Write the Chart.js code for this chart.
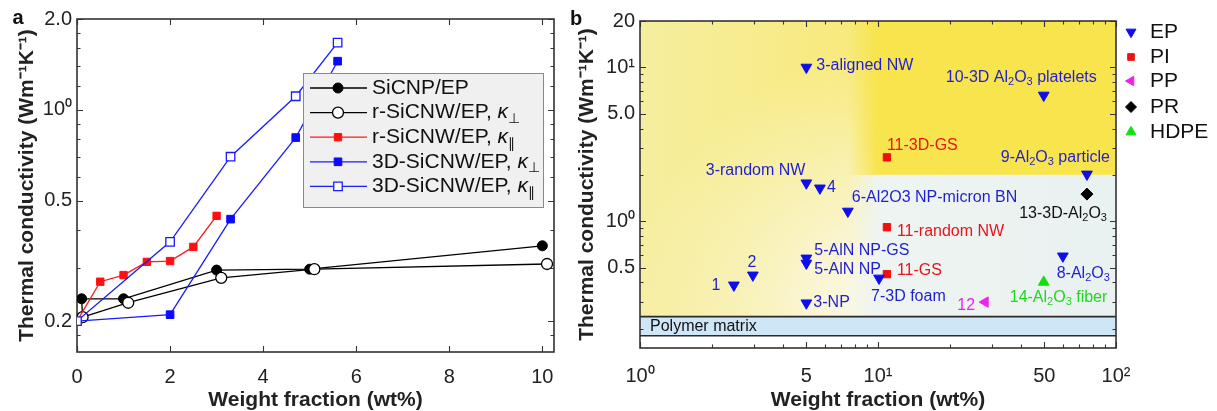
<!DOCTYPE html>
<html>
<head>
<meta charset="utf-8">
<script src="https://cdn.jsdelivr.net/npm/chart.js@4.4.0/dist/chart.umd.min.js"></script>
<style>
body { margin:0; background:#fff; width:1217px; height:411px; overflow:hidden; position:relative; }
#ca { position:absolute; left:0; top:0; }
#cb { position:absolute; left:565px; top:0; }
</style>
</head>
<body>
<canvas id="ca" width="575" height="411"></canvas>
<canvas id="cb" width="652" height="411"></canvas>
<script>
// ---- panel a data ----
var aNames = ["SiCNP/EP", "r-SiCNW/EP, κ_⊥", "r-SiCNW/EP, κ_∥", "3D-SiCNW/EP, κ_⊥", "3D-SiCNW/EP, κ_∥"];
var npX = [0.12, 0.1, 1.0, 3.0, 5.0, 10.0];
var npY = [0.206, 0.237, 0.237, 0.295, 0.297, 0.355];
var rPerpX = [0.12, 1.1, 3.1, 5.1, 10.1];
var rPerpY = [0.206, 0.23, 0.278, 0.297, 0.309];
var rParX = [0, 0.5, 1.0, 1.5, 2.0, 2.5, 3.0];
var rParY = [0.2, 0.27, 0.284, 0.314, 0.316, 0.352, 0.446];
var dPerpX = [0, 2.0, 3.3, 4.7, 5.6];
var dPerpY = [0.2, 0.21, 0.435, 0.81, 1.45];
var dParX = [0, 2.0, 3.3, 4.7, 5.6];
var dParY = [0.2, 0.366, 0.70, 1.11, 1.67];

var aXTicks = [0, 2, 4, 6, 8, 10];
var aXLabels = ["0", "2", "4", "6", "8", "10"];
var aYTicks = [0.2, 0.5, 1, 2];
var aYLabels = ["0.2", "0.5", "10⁰", "2.0"];
var aYMinor = [0.18, 0.3, 0.4, 0.6, 0.7, 0.8, 0.9, 1.2, 1.4, 1.6, 1.8];

// ---- panel b data ----
var bNames = ["EP", "PI", "PP", "PR", "HDPE"];
var epX = [2.48, 2.98, 5.0, 5.0, 5.0, 10.1, 7.47, 5.0, 5.7, 5.0, 49.7, 75.5, 59.8];
var epY = [0.384, 0.446, 0.294, 0.575, 0.533, 0.426, 1.16, 1.77, 1.64, 10.0, 6.58, 2.02, 0.593];
var epText = ["1", "2", "3-NP", "5-AlN NP-GS", "5-AlN NP", "7-3D foam", "6-Al2O3 NP-micron BN",
              "3-random NW", "4", "3-aligned NW", "10-3D Al_2O_3 platelets", "9-Al_2O_3 particle", "8-Al_2O_3"];
var piX = [10.9, 10.9, 10.9];
var piY = [2.6, 0.914, 0.453];
var piText = ["11-3D-GS", "11-random NW", "11-GS"];
var ppX = [28.2];
var ppY = [0.298];
var ppText = ["12"];
var prX = [75.5];
var prY = [1.50];
var prText = ["13-3D-Al_2O_3"];
var hdX = [49.7];
var hdY = [0.402];
var hdText = ["14-Al_2O_3 fiber"];

var polymerLo = 0.18, polymerHi = 0.24;   // polymer matrix band
var hotX = 10, hotY = 2;                   // corner of the bright yellow block

var bXTicks = [1, 5, 10, 50, 100];
var bXLabels = ["10⁰", "5", "10¹", "50", "10²"];
var bXMinor = [2, 3, 4, 6, 7, 8, 9, 20, 30, 40, 60, 70, 80, 90];
var bYTicks = [0.5, 1, 5, 10, 20];
var bYLabels = ["0.5", "10⁰", "5.0", "10¹", "20"];
var bYMinor = [0.2, 0.3, 0.4, 0.6, 0.7, 0.8, 0.9, 2, 3, 4, 6, 7, 8, 9];

// label offsets [dx, dy, align] per point
var epPos = [[-18,0,'center'],[-1,-13,'center'],[7,0,'left'],[8,-8,'left'],[8,6,'left'],[-8,18,'left'],
             [4,-14,'left'],[-1,-12,'right'],[7,-1,'left'],[10,-2,'left'],[53,-18,'right'],[23,-17,'right'],[47,17,'right']];
var piPos = [[0,-12,'left'],[10,4,'left'],[10,-4,'left']];
var ppPos = [[-10,3,'right']];
var prPos = [[20,19,'right']];
var hdPos = [[-34,15,'left']];

var FONT = '"Liberation Sans", Arial, Helvetica, sans-serif';

function pts(xs, ys) {
    var out = [];
    for (var i = 0; i < xs.length; i++) out.push({x: xs[i], y: ys[i]});
    return out;
}

// small rich text: _c subscript, ^c superscript
function richRuns(s) {
    var runs = [];
    for (var i = 0; i < s.length; i++) {
        var c = s[i], k = '';
        if ((c === '_' || c === '^') && i + 1 < s.length) { k = c; c = s[i + 1]; i++; }
        if (c === 'κ') k = 'i';
        var last = runs[runs.length - 1];
        if (last && last.k === k && k === '') last.t += c;
        else runs.push({t: c, k: k});
    }
    return runs;
}
function runFont(r, size, bold) {
    var sz = (r.k === '_' || r.k === '^') ? Math.round(size * 0.68) : size;
    return (r.k === 'i' ? 'italic ' : '') + (bold ? 'bold ' : '') + sz + 'px ' + FONT;
}
function drawRich(ctx, s, x, y, size, color, align, bold) {
    var runs = richRuns(s), w = 0;
    runs.forEach(function(r) { ctx.font = runFont(r, size, bold); r.w = ctx.measureText(r.t).width; w += r.w; });
    var sx = align === 'right' ? x - w : (align === 'center' ? x - w / 2 : x);
    ctx.fillStyle = color;
    ctx.textAlign = 'left';
    ctx.textBaseline = 'middle';
    runs.forEach(function(r) {
        ctx.font = runFont(r, size, bold);
        var dy = r.k === '_' ? size * 0.32 : (r.k === '^' ? -size * 0.35 : 0);
        ctx.fillText(r.t, sx, y + dy);
        sx += r.w;
    });
}

function marker(ctx, ds, x, y, r) {
    ctx.save();
    ctx.fillStyle = ds.pointBackgroundColor;
    ctx.strokeStyle = ds.pointBorderColor;
    ctx.lineWidth = ds.pointBorderWidth;
    Chart.helpers.drawPoint(ctx, {pointStyle: ds.pointStyle, radius: r || ds.pointRadius,
        rotation: ds.pointRotation || 0, borderWidth: ds.pointBorderWidth}, x, y);
    ctx.restore();
}

// inward ticks on all four sides and the box
var frameTicks = {
    id: 'frameTicks',
    beforeDatasetsDraw: function(chart, args, o) {
        var c = chart.ctx, a = chart.chartArea, xs = chart.scales.x, ys = chart.scales.y;
        c.save();
        c.strokeStyle = '#333';
        c.lineWidth = 1.1;
        c.beginPath();
        function vt(list, len) {
            list.forEach(function(v) {
                var p = Math.round(xs.getPixelForValue(v)) + 0.5;
                c.moveTo(p, a.bottom); c.lineTo(p, a.bottom - len);
                c.moveTo(p, a.top); c.lineTo(p, a.top + len);
            });
        }
        function ht(list, len) {
            list.forEach(function(v) {
                var p = Math.round(ys.getPixelForValue(v)) + 0.5;
                c.moveTo(a.left, p); c.lineTo(a.left + len, p);
                c.moveTo(a.right, p); c.lineTo(a.right - len, p);
            });
        }
        vt(o.xMajor || [], 6); vt(o.xMinor || [], 3.5);
        ht(o.yMajor || [], 6); ht(o.yMinor || [], 3.5);
        c.stroke();
        c.lineWidth = 1.6;
        c.strokeRect(a.left, a.top, a.right - a.left, a.bottom - a.top);
        c.restore();
    }
};

var panelLetter = {
    id: 'panelLetter',
    afterDraw: function(chart, args, o) {
        var c = chart.ctx;
        c.save();
        c.font = 'bold 20px ' + FONT;
        c.fillStyle = '#111';
        c.textAlign = 'center';
        c.textBaseline = 'middle';
        c.fillText(o.text, o.x, o.y);
        c.restore();
    }
};

function logTicks(values) {
    return function(scale) { scale.ticks = values.map(function(v) { return {value: v}; }); };
}

Chart.defaults.font.family = FONT;
Chart.defaults.color = '#222';

// ================= panel a =================
var aLegend = {
    id: 'aLegend',
    afterDraw: function(chart) {
        var c = chart.ctx;
        c.save();
        c.fillStyle = '#f0f0f0';
        c.fillRect(303, 73, 240, 134);
        c.strokeStyle = '#8a8a8a';
        c.lineWidth = 1;
        c.strokeRect(303.5, 73.5, 240, 134);
        chart.data.datasets.forEach(function(ds, i) {
            var y = 88 + i * 24.6;
            c.strokeStyle = ds.borderColor;
            c.lineWidth = ds.borderWidth;
            c.beginPath(); c.moveTo(310, y); c.lineTo(367, y); c.stroke();
            marker(c, ds, 338, y);
            drawRich(c, ds.label, 372, y, 21, '#111', 'left', false);
        });
        c.restore();
    }
};

// later series are drawn on top, as in the figure
new Chart(document.getElementById('ca'), {
    type: 'scatter',
    data: {
        datasets: [
            {label: aNames[0], data: pts(npX, npY), order: 5, showLine: true, borderColor: '#000', borderWidth: 1.3,
             pointStyle: 'circle', pointRadius: 5, pointBackgroundColor: '#000', pointBorderColor: '#000', pointBorderWidth: 1},
            {label: aNames[1], data: pts(rPerpX, rPerpY), order: 4, showLine: true, borderColor: '#000', borderWidth: 1.3,
             pointStyle: 'circle', pointRadius: 5.5, pointBackgroundColor: '#fff', pointBorderColor: '#000', pointBorderWidth: 1.3},
            {label: aNames[2], data: pts(rParX, rParY), order: 3, showLine: true, borderColor: '#ff1a1a', borderWidth: 1.3,
             pointStyle: 'rect', pointRadius: 5.2, pointBackgroundColor: '#ff1010', pointBorderColor: '#ff1010', pointBorderWidth: 1},
            {label: aNames[3], data: pts(dPerpX, dPerpY), order: 2, showLine: true, borderColor: '#1a1aff', borderWidth: 1.3,
             pointStyle: 'rect', pointRadius: 5.4, pointBackgroundColor: '#0a0aff', pointBorderColor: '#0a0aff', pointBorderWidth: 1},
            {label: aNames[4], data: pts(dParX, dParY), order: 1, showLine: true, borderColor: '#1a1aff', borderWidth: 1.3,
             pointStyle: 'rect', pointRadius: 6, pointBackgroundColor: '#fff', pointBorderColor: '#1a1aff', pointBorderWidth: 1.3}
        ]
    },
    options: {
        responsive: false,
        animation: false,
        devicePixelRatio: 1,
        layout: {padding: {top: 19, right: 21, left: 0, bottom: 0}},
        elements: {line: {tension: 0}},
        plugins: {
            legend: {display: false},
            tooltip: {enabled: false},
            frameTicks: {xMajor: aXTicks, yMajor: aYTicks, yMinor: aYMinor},
            panelLetter: {text: 'a', x: 18, y: 18}
        },
        scales: {
            x: {
                type: 'linear', min: 0, max: 10.25, bounds: 'data',
                grid: {display: false, drawTicks: false}, border: {display: false},
                afterBuildTicks: logTicks(aXTicks),
                afterFit: function(s) { s.height = 59; },
                ticks: {padding: 13, maxRotation: 0, autoSkip: false, font: {size: 20},
                        callback: function(v, i) { return aXLabels[i]; }},
                title: {display: true, text: 'Weight fraction (wt%)', padding: {top: 0, bottom: 0},
                        font: {size: 21, weight: 'bold', lineHeight: 1}}
            },
            y: {
                type: 'logarithmic', min: 0.158, max: 2.0, bounds: 'data',
                grid: {display: false, drawTicks: false}, border: {display: false},
                afterBuildTicks: logTicks(aYTicks),
                afterFit: function(s) { s.width = 77; },
                ticks: {padding: 5, autoSkip: false, font: {size: 20},
                        callback: function(v, i) { return aYLabels[i]; }},
                title: {display: true, text: 'Thermal conductivity (Wm⁻¹K⁻¹)', padding: {top: 17, bottom: 0},
                        font: {size: 21, weight: 'bold', lineHeight: 1}}
            }
        }
    },
    plugins: [frameTicks, aLegend, panelLetter]
});

// ================= panel b =================
var bTexts = [epText, piText, ppText, prText, hdText];
var bPos = [epPos, piPos, ppPos, prPos, hdPos];
var bTextColors = ['#1f1fd0', '#e8141c', '#ee1fee', '#111', '#1ed81e'];

var bBackground = {
    id: 'bBackground',
    beforeDatasetsDraw: function(chart) {
        var c = chart.ctx, a = chart.chartArea, xs = chart.scales.x, ys = chart.scales.y;
        var yHi = ys.getPixelForValue(polymerHi), yLo = ys.getPixelForValue(polymerLo);
        var xh = xs.getPixelForValue(hotX), yh = ys.getPixelForValue(hotY);
        c.save();
        // left region
        var g = c.createLinearGradient(a.left, 0, xh, 0);
        g.addColorStop(0, '#f6eea0');
        g.addColorStop(1, '#f8e978');
        c.fillStyle = g;
        c.fillRect(a.left, a.top, xh - a.left, yHi - a.top);
        c.save();
        c.beginPath(); c.rect(a.left, a.top, xh - a.left, yHi - a.top); c.clip();
        var rg = c.createRadialGradient(xh + 20, yHi, 0, xh + 20, yHi, 270);
        rg.addColorStop(0, 'rgba(250,250,246,1)');
        rg.addColorStop(0.35, 'rgba(250,248,228,0.8)');
        rg.addColorStop(1, 'rgba(250,246,215,0)');
        c.fillStyle = rg;
        c.fillRect(a.left, a.top, xh - a.left, yHi - a.top);
        c.restore();
        // bright block, soft left edge
        var gy = c.createLinearGradient(xh - 30, 0, xh, 0);
        gy.addColorStop(0, 'rgba(248,228,76,0)');
        gy.addColorStop(1, 'rgba(248,228,76,1)');
        c.fillStyle = gy;
        c.fillRect(xh - 30, a.top, 30, yh - a.top);
        c.fillStyle = '#f8e44c';
        c.fillRect(xh, a.top, a.right - xh, yh - a.top);
        // pale block
        var gp = c.createLinearGradient(xh - 30, 0, xh, 0);
        gp.addColorStop(0, 'rgba(238,244,241,0)');
        gp.addColorStop(1, 'rgba(238,244,241,1)');
        c.fillStyle = gp;
        c.fillRect(xh - 30, yh, 30, yHi - yh);
        var gq = c.createLinearGradient(xh, 0, a.right, 0);
        gq.addColorStop(0, '#eef4f1');
        gq.addColorStop(1, '#e9f1f1');
        c.fillStyle = gq;
        c.fillRect(xh, yh, a.right - xh, yHi - yh);
        // polymer matrix band
        c.fillStyle = '#cfe6f6';
        c.fillRect(a.left, yHi, a.right - a.left, yLo - yHi);
        c.strokeStyle = '#2a2a2a';
        c.lineWidth = 1.6;
        c.beginPath();
        c.moveTo(a.left, yHi); c.lineTo(a.right, yHi);
        c.moveTo(a.left, yLo); c.lineTo(a.right, yLo);
        c.stroke();
        drawRich(c, 'Polymer matrix', a.left + 10, (yHi + yLo) / 2, 16, '#111', 'left', false);
        c.restore();
    }
};

var bLabels = {
    id: 'bLabels',
    afterDatasetsDraw: function(chart) {
        var c = chart.ctx;
        c.save();
        chart.data.datasets.forEach(function(ds, i) {
            var meta = chart.getDatasetMeta(i);
            meta.data.forEach(function(el, j) {
                var p = bPos[i][j];
                drawRich(c, bTexts[i][j], el.x + p[0], el.y + p[1], 16, bTextColors[i], p[2], false);
            });
        });
        c.restore();
    }
};

var bLegend = {
    id: 'bLegend',
    afterDraw: function(chart) {
        var c = chart.ctx;
        var rows = [32, 57, 81, 107, 132];
        chart.data.datasets.forEach(function(ds, i) {
            marker(c, ds, 566, rows[i], ds.pointRadius - 0.5);
            drawRich(c, ds.label, 585, rows[i], 21, '#111', 'left', false);
        });
    }
};

new Chart(document.getElementById('cb'), {
    type: 'scatter',
    data: {
        datasets: [
            {label: bNames[0], data: pts(epX, epY), pointStyle: 'triangle', pointRotation: 180, pointRadius: 6.2,
             pointBackgroundColor: '#0d0dee', pointBorderColor: '#0d0dee', pointBorderWidth: 1},
            {label: bNames[1], data: pts(piX, piY), pointStyle: 'rect', pointRadius: 5.2,
             pointBackgroundColor: '#f01010', pointBorderColor: '#f01010', pointBorderWidth: 1},
            {label: bNames[2], data: pts(ppX, ppY), pointStyle: 'triangle', pointRotation: 270, pointRadius: 6,
             pointBackgroundColor: '#f020f0', pointBorderColor: '#f020f0', pointBorderWidth: 1},
            {label: bNames[3], data: pts(prX, prY), pointStyle: 'rectRot', pointRadius: 6,
             pointBackgroundColor: '#000', pointBorderColor: '#000', pointBorderWidth: 1},
            {label: bNames[4], data: pts(hdX, hdY), pointStyle: 'triangle', pointRotation: 0, pointRadius: 6.2,
             pointBackgroundColor: '#10e010', pointBorderColor: '#10e010', pointBorderWidth: 1}
        ]
    },
    options: {
        responsive: false,
        animation: false,
        devicePixelRatio: 1,
        layout: {padding: {top: 21, right: 101, left: 0, bottom: 0}},
        plugins: {
            legend: {display: false},
            tooltip: {enabled: false},
            frameTicks: {xMajor: bXTicks, xMinor: bXMinor, yMajor: bYTicks, yMinor: bYMinor},
            panelLetter: {text: 'b', x: 11, y: 19}
        },
        scales: {
            x: {
                type: 'logarithmic', min: 1, max: 100, bounds: 'data',
                grid: {display: false, drawTicks: false}, border: {display: false},
                afterBuildTicks: logTicks(bXTicks),
                afterFit: function(s) { s.height = 63; },
                ticks: {padding: 16, maxRotation: 0, autoSkip: false, font: {size: 20},
                        callback: function(v, i) { return bXLabels[i]; }},
                title: {display: true, text: 'Weight fraction (wt%)', padding: {top: 2.5, bottom: 0},
                        font: {size: 21, weight: 'bold', lineHeight: 1}}
            },
            y: {
                type: 'logarithmic', min: 0.15, max: 20, bounds: 'data',
                grid: {display: false, drawTicks: false}, border: {display: false},
                afterBuildTicks: logTicks(bYTicks),
                afterFit: function(s) { s.width = 75; },
                ticks: {padding: 5, autoSkip: false, font: {size: 20},
                        callback: function(v, i) { return bYLabels[i]; }},
                title: {display: true, text: 'Thermal conductivity (Wm⁻¹K⁻¹)', padding: {top: 11.5, bottom: 0},
                        font: {size: 21, weight: 'bold', lineHeight: 1}}
            }
        }
    },
    plugins: [bBackground, frameTicks, bLabels, bLegend, panelLetter]
});
</script>
</body>
</html>
